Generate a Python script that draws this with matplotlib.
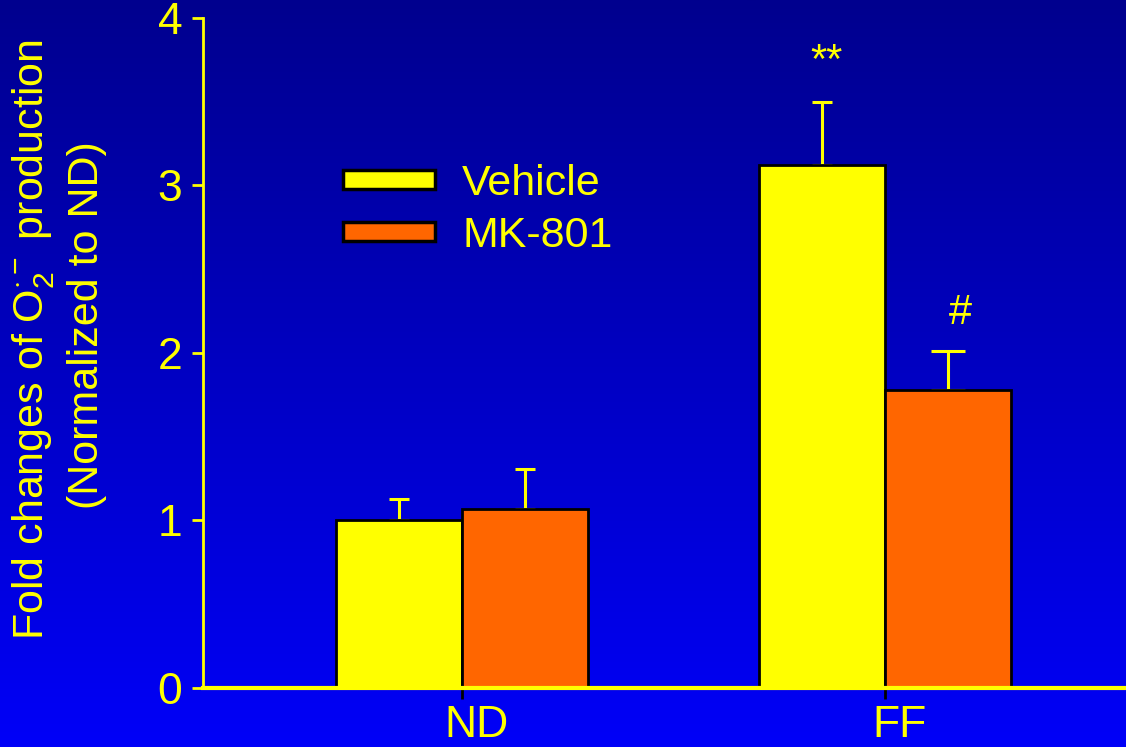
import numpy as np
import matplotlib.pyplot as plt
import matplotlib.transforms as mtransforms
from matplotlib.colors import LinearSegmentedColormap
from matplotlib.patches import Patch

plt.rcParams['font.family'] = ['Liberation Sans', 'DejaVu Sans']
plt.rcParams['mathtext.fontset'] = 'custom'
plt.rcParams['mathtext.rm'] = 'Liberation Sans'
plt.rcParams['mathtext.it'] = 'Liberation Sans'

# data
groups = ['ND', 'FF']
series = ['Vehicle', 'MK-801']
vehicle = [1.00, 3.12]
vehicle_err = [0.13, 0.38]
mk801 = [1.07, 1.78]
mk801_err = [0.24, 0.23]
marks_vehicle = ['', '**']
marks_mk801 = ['', '#']

yellow = '#FFFF00'
orange = '#FF6600'

fig = plt.figure(figsize=(11.26, 7.47), dpi=100)

# gradient background
bg = fig.add_axes([0, 0, 1, 1], zorder=-10)
cmap_bg = LinearSegmentedColormap.from_list('bg', ['#00008E', '#0000F8'])
grad = np.linspace(0, 1, 256).reshape(-1, 1)
bg.imshow(grad, aspect='auto', cmap=cmap_bg, extent=[0, 1, 0, 1], origin='upper')
bg.axis('off')

ax = fig.add_axes([0.1803, 0.079, 0.8197, 0.897])
ax.patch.set_alpha(0)

x = np.arange(len(groups))
w = 0.298
ax.bar(x - w / 2, vehicle, w, color=yellow, edgecolor='black', linewidth=2, zorder=3)
ax.bar(x + w / 2, mk801, w, color=orange, edgecolor='black', linewidth=2, zorder=3)

caps_v = [7.2, 7.2]
caps_m = [7.2, 12.2]
for i in range(len(groups)):
    ax.errorbar(x[i] - w / 2, vehicle[i], yerr=[[0], [vehicle_err[i]]], fmt='none',
                ecolor=yellow, elinewidth=2.2, capsize=caps_v[i], capthick=2.2, zorder=2)
    ax.errorbar(x[i] + w / 2, mk801[i], yerr=[[0], [mk801_err[i]]], fmt='none',
                ecolor=yellow, elinewidth=2.2, capsize=caps_m[i], capthick=2.2, zorder=2)
    if marks_vehicle[i]:
        ax.text(x[i] - w / 2 + 0.01, vehicle[i] + vehicle_err[i] + 0.12, marks_vehicle[i],
                ha='center', va='bottom', color=yellow, fontsize=30)
    if marks_mk801[i]:
        ax.text(x[i] + w / 2 + 0.03, mk801[i] + mk801_err[i] + 0.11, marks_mk801[i],
                ha='center', va='bottom', color=yellow, fontsize=30)

ax.set_xlim(-0.612, 1.570)
ax.set_ylim(0, 4)
ax.set_yticks([0, 1, 2, 3, 4])
ax.set_xticks(x)
ax.set_xticklabels(groups)
ax.tick_params(axis='y', colors=yellow, labelsize=32, length=8, width=2, pad=7)
ax.tick_params(axis='x', color='black', labelcolor=yellow, labelsize=32, length=8, width=2, pad=4)
shift = mtransforms.ScaledTranslation(15 / 100, 0, fig.dpi_scale_trans)
for lab in ax.get_xticklabels():
    lab.set_transform(lab.get_transform() + shift)

ax.spines['top'].set_visible(False)
ax.spines['right'].set_visible(False)
ax.spines['left'].set_color(yellow)
ax.spines['left'].set_linewidth(2)
ax.spines['bottom'].set_color(yellow)
ax.spines['bottom'].set_linewidth(3)
ax.spines['bottom'].set_zorder(4)

handles = [Patch(facecolor=yellow, edgecolor='black', linewidth=2.5),
           Patch(facecolor=orange, edgecolor='black', linewidth=2.5)]
leg = ax.legend(handles, series, loc='upper left', bbox_to_anchor=(0.3046, 0.78),
                bbox_transform=fig.transFigure, borderpad=0, borderaxespad=0,
                frameon=False, fontsize=31, handlelength=2.14, handleheight=0.3,
                handletextpad=0.63, labelspacing=0.27, labelcolor=yellow)

fig.text(0.030, 0.546, 'Fold changes of O$_2^{\\cdot -}$ production', rotation=90,
         color=yellow, fontsize=31, ha='center', va='center')
fig.text(0.077, 0.565, '(Normalized to ND)', rotation=90,
         color=yellow, fontsize=31, ha='center', va='center')

fig.savefig('out.png', dpi=100)
